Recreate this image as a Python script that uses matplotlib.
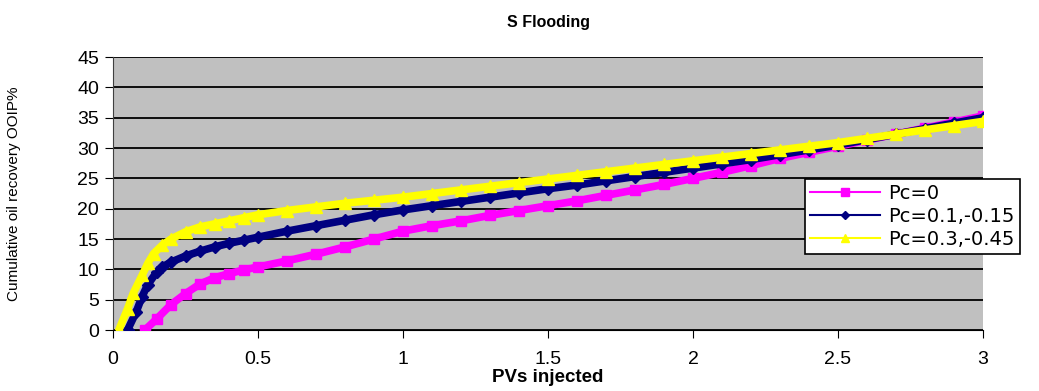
import matplotlib
matplotlib.use("Agg")
import matplotlib.pyplot as plt

# Pc=0
pv_a = [0.11, 0.15, 0.2, 0.25, 0.3, 0.35, 0.4, 0.45, 0.5, 0.6, 0.7, 0.8, 0.9, 1.0,
        1.1, 1.2, 1.3, 1.4, 1.5, 1.6, 1.7, 1.8, 1.9, 2.0, 2.1, 2.2, 2.3, 2.4, 2.5,
        2.6, 2.7, 2.8, 2.9, 3.0]
rec_a = [0, 1.8, 4.2, 6.0, 7.6, 8.6, 9.3, 9.9, 10.4, 11.4, 12.5, 13.7, 15.0, 16.3,
         17.2, 18.0, 18.9, 19.7, 20.5, 21.3, 22.2, 23.1, 24.0, 25.0, 26.0, 27.1, 28.3,
         29.3, 30.3, 31.3, 32.3, 33.3, 34.3, 35.3]

# Pc=0.1,-0.15
pv_b = [0.05, 0.08, 0.1, 0.12, 0.15, 0.17, 0.2, 0.25, 0.3, 0.35, 0.4, 0.45, 0.5,
        0.6, 0.7, 0.8, 0.9, 1.0, 1.1, 1.2, 1.3, 1.4, 1.5, 1.6, 1.7, 1.8, 1.9, 2.0,
        2.1, 2.2, 2.3, 2.4, 2.5, 2.6, 2.7, 2.8, 2.9, 3.0]
rec_b = [0, 3.0, 5.5, 7.5, 9.5, 10.4, 11.2, 12.2, 13.0, 13.7, 14.3, 14.8, 15.3,
         16.3, 17.2, 18.1, 19.0, 19.8, 20.5, 21.2, 21.9, 22.6, 23.3, 23.9, 24.6, 25.3,
         26.0, 26.7, 27.4, 28.1, 28.9, 29.7, 30.5, 31.4, 32.3, 33.2, 34.1, 35.0]

# Pc=0.3,-0.45
pv_c = [0.02, 0.05, 0.07, 0.1, 0.12, 0.14, 0.17, 0.2, 0.25, 0.3, 0.35, 0.4, 0.45,
        0.5, 0.6, 0.7, 0.8, 0.9, 1.0, 1.1, 1.2, 1.3, 1.4, 1.5, 1.6, 1.7, 1.8, 1.9,
        2.0, 2.1, 2.2, 2.3, 2.4, 2.5, 2.6, 2.7, 2.8, 2.9, 3.0]
rec_c = [0, 3.5, 6.1, 9.0, 11.0, 12.6, 14.0, 15.0, 16.2, 17.0, 17.5, 18.0, 18.5,
         19.0, 19.7, 20.3, 20.9, 21.4, 21.9, 22.5, 23.1, 23.7, 24.3, 24.9, 25.5, 26.1,
         26.7, 27.3, 27.9, 28.5, 29.1, 29.7, 30.3, 30.9, 31.6, 32.3, 33.0, 33.7, 34.4]

labels = ['Pc=0', 'Pc=0.1,-0.15', 'Pc=0.3,-0.45']
x_ticks = [0, 0.5, 1, 1.5, 2, 2.5, 3]
y_ticks = [0, 5, 10, 15, 20, 25, 30, 35, 40, 45]

plt.rcParams['font.family'] = ['Liberation Sans', 'DejaVu Sans']

fig = plt.figure(figsize=(10.39, 3.91), dpi=100)
ax = fig.add_axes([0.1088, 0.156, 0.8373, 0.698])
ax.set_facecolor('#c0c0c0')

ax.plot(pv_a, rec_a, color='#ff00ff', marker='s', ms=7, lw=5.5, label=labels[0], zorder=3)
ax.plot(pv_b, rec_b, color='#000080', marker='D', ms=6, lw=5.5, label=labels[1], zorder=4)
ax.plot(pv_c, rec_c, color='#ffff00', marker='^', ms=8, lw=5.5, label=labels[2], zorder=5)

ax.set_xlim(0, 3)
ax.set_ylim(0, 45)
ax.set_xticks(x_ticks)
ax.set_xticklabels(['0', '0.5', '1', '1.5', '2', '2.5', '3'])
ax.set_yticks(y_ticks)
ax.yaxis.grid(True, color='black', lw=1.3)
ax.set_axisbelow(True)
for s in ['top', 'right']:
    ax.spines[s].set_visible(False)
ax.spines['left'].set_color('#404040')
ax.spines['bottom'].set_color('black')
ax.tick_params(axis='both', labelsize=14, direction='out', length=6, colors='black')
ax.tick_params(axis='x', pad=9)
ax.tick_params(axis='y', pad=4)

ax.set_title('S Flooding', fontsize=11.5, fontweight='bold', pad=22)
ax.set_xlabel('PVs injected', fontsize=13.5, fontweight='bold', labelpad=1)
ax.set_ylabel('Cumulative oil recovery OOIP%', fontsize=11,
              family=['Liberation Sans Narrow', 'Liberation Sans', 'DejaVu Sans'])
ax.yaxis.set_label_coords(-0.106, 0.5)

leg = fig.legend(loc='upper left', bbox_to_anchor=(805 / 1039, 1 - 179 / 391),
                 prop={'family': 'DejaVu Sans', 'size': 14},
                 frameon=True, fancybox=False, framealpha=1,
                 edgecolor='black', borderpad=0.25, labelspacing=0.2,
                 handlelength=3.6, handletextpad=0.45, markerscale=0.75,
                 borderaxespad=0)
leg.get_frame().set_linewidth(1.2)
for line in leg.get_lines():
    line.set_linewidth(1.5)

fig.savefig('out.png', dpi=100)
